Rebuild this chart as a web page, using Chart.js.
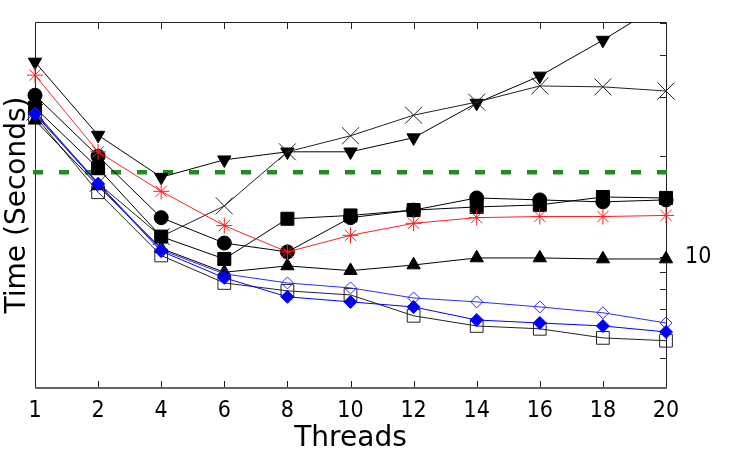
<!DOCTYPE html>
<html>
<head>
<meta charset="utf-8">
<script src="https://cdn.jsdelivr.net/npm/chart.js@4.4.1/dist/chart.umd.min.js"></script>
<style>
    html, body { margin: 0; padding: 0; background: #fff; }
    #wrap { width: 750px; height: 450px; }
</style>
</head>
<body>
<div id="wrap"><canvas id="timeChart" width="750" height="450"></canvas></div>
<script>
// thread counts (x axis categories)
const threads = ['1', '2', '4', '6', '8', '10', '12', '14', '16', '18', '20'];

// run time in seconds, one array per marker
const timeDownTri     = [38.2, 23.1, 17.3, 19.5, 20.6, 20.6, 22.7, 28.8, 34.7, 44.4, 58.0];
const timeCross       = [27.1, 16.6, 11.5, 14.2, 20.6, 23.0, 26.5, 29.0, 32.4, 32.2, 31.3];
const timeStar        = [34.9, 20.6, 15.7, 12.4, 10.35, 11.6, 12.6, 13.1, 13.2, 13.2, 13.3];
const timeCircle      = [30.4, 20.0, 13.1, 11.0, 10.35, 13.1, 13.8, 15.0, 14.8, 14.6, 14.8];
const timeSquare      = [27.9, 18.4, 11.5, 9.86, 13.0, 13.3, 13.8, 14.1, 14.3, 15.1, 15.0];
const timeTriangle    = [25.6, 16.3, 10.6, 9.0, 9.4, 9.1, 9.46, 9.93, 9.93, 9.86, 9.86];
const timeOpenDiamond = [26.9, 16.6, 10.5, 8.9, 8.36, 8.08, 7.54, 7.34, 7.09, 6.81, 6.35];
const timeDiamond     = [26.7, 16.5, 10.4, 8.66, 7.6, 7.34, 7.09, 6.48, 6.35, 6.22, 5.97];
const timeOpenSquare  = [26.4, 15.6, 10.1, 8.36, 7.92, 7.70, 6.67, 6.22, 6.10, 5.73, 5.62];

// dashed reference time
const baselineTime = 17.9;

// log axis range and right side ticks
const yMin = 4.06;
const yMax = 50.3;
const rightTicks = [5, 6, 7, 8, 9, 10, 20, 30, 40, 50];
const rightLabels = [10];

const tickFont = { family: '"DejaVu Sans Condensed", "Liberation Sans Narrow", "DejaVu Sans"', size: 23 };
const titleFont = { family: '"DejaVu Sans", sans-serif', size: 28, lineHeight: 1 };

function series(data, style, color, radius, filled, extra) {
    var ds = {
        data: data,
        borderColor: color,
        borderWidth: 1,
        pointStyle: style,
        pointRadius: radius,
        pointBorderColor: color,
        pointBackgroundColor: filled ? color : 'rgba(0,0,0,0)',
        pointBorderWidth: 1,
        tension: 0,
        clip: false,
    };
    return Object.assign(ds, extra || {});
}

// frame, inward ticks and dashed baseline
const framePlugin = {
    id: 'frame',
    beforeDatasetsDraw(chart) {
        var ctx = chart.ctx;
        var a = chart.chartArea;
        var x = chart.scales.x;
        var y2 = chart.scales.y2;
        ctx.save();

        ctx.strokeStyle = '#222';
        ctx.lineWidth = 1;
        ctx.beginPath();
        ctx.moveTo(a.left + 0.5, a.top + 0.5);
        ctx.lineTo(a.right + 0.5, a.top + 0.5);
        ctx.lineTo(a.right + 0.5, a.bottom);
        ctx.moveTo(a.left + 0.5, a.top + 0.5);
        ctx.lineTo(a.left + 0.5, a.bottom);
        for (var i = 1; i < threads.length - 1; i++) {
            var px = Math.round(x.getPixelForValue(i)) + 0.5;
            ctx.moveTo(px, a.top);
            ctx.lineTo(px, a.top + 7);
            ctx.moveTo(px, a.bottom);
            ctx.lineTo(px, a.bottom - 7);
        }
        rightTicks.forEach(function (v) {
            var py = Math.round(y2.getPixelForValue(v)) + 0.5;
            ctx.moveTo(a.right, py);
            ctx.lineTo(a.right - 6, py);
        });
        ctx.stroke();

        ctx.strokeStyle = '#666';
        ctx.lineWidth = 2;
        ctx.beginPath();
        ctx.moveTo(a.left, a.bottom);
        ctx.lineTo(a.right + 1, a.bottom);
        ctx.stroke();

        var by = chart.scales.y.getPixelForValue(baselineTime);
        ctx.strokeStyle = '#228B22';
        ctx.lineWidth = 4.5;
        ctx.setLineDash([10, 16]);
        ctx.beginPath();
        ctx.moveTo(a.left - 2, by);
        ctx.lineTo(a.right + 2, by);
        ctx.stroke();
        ctx.restore();
    }
};

function fixVertical(width) {
    return function (scale) {
        scale.width = width;
        scale.paddingTop = 0;
        scale.paddingBottom = 0;
    };
}

const ctx = document.getElementById('timeChart').getContext('2d');
const timeChart = new Chart(ctx, {
    type: 'line',
    data: {
        labels: threads,
        datasets: [
            series(timeStar, 'star', '#ff2020', 8, false),
            series(timeDiamond, 'rectRot', '#0000ff', 6.5, true),
            series(timeOpenDiamond, 'rectRot', '#2a2aff', 6, false),
            series(timeCircle, 'circle', '#000', 7, true),
            series(timeSquare, 'rect', '#000', 9.2, true),
            series(timeTriangle, 'triangle', '#000', 7.7, true),
            series(timeCross, 'crossRot', '#222', 12, false),
            series(timeDownTri, 'triangle', '#000', 7.7, true, {
                pointRotation: 180,
                clip: { left: 15, right: 15, top: 0, bottom: 15 },
            }),
            series(timeOpenSquare, 'rect', '#222', 9, false),
        ],
    },
    options: {
        responsive: false,
        animation: false,
        events: [],
        layout: { padding: { top: 22, left: 0, right: 0, bottom: 0 } },
        plugins: {
            legend: { display: false },
            tooltip: { enabled: false },
        },
        scales: {
            x: {
                type: 'category',
                offset: false,
                grid: { display: false },
                border: { display: false },
                ticks: { color: '#000', font: tickFont, padding: 1, autoSkip: false, maxRotation: 0 },
                title: { display: true, text: 'Threads', color: '#000', font: titleFont, padding: { top: 0, bottom: -3 } },
                afterFit: function (scale) {
                    scale.height = 62;
                    scale.paddingLeft = 0;
                    scale.paddingRight = 0;
                },
            },
            y: {
                type: 'logarithmic',
                position: 'left',
                min: yMin,
                max: yMax,
                grid: { display: false },
                border: { display: false },
                ticks: { display: false },
                title: { display: true, text: 'Time (Seconds)', color: '#000', font: titleFont, padding: { top: 4, bottom: 0 } },
                afterFit: fixVertical(35),
            },
            y2: {
                type: 'logarithmic',
                position: 'right',
                min: yMin,
                max: yMax,
                grid: { display: false },
                border: { display: false },
                afterBuildTicks: function (scale) {
                    scale.ticks = rightTicks.map(function (v) { return { value: v }; });
                },
                ticks: {
                    color: '#000',
                    font: tickFont,
                    padding: 11,
                    callback: function (value) {
                        return rightLabels.indexOf(value) >= 0 ? String(value) : '';
                    },
                },
                afterFit: fixVertical(84),
            },
        },
    },
    plugins: [framePlugin],
});
</script>
</body>
</html>
